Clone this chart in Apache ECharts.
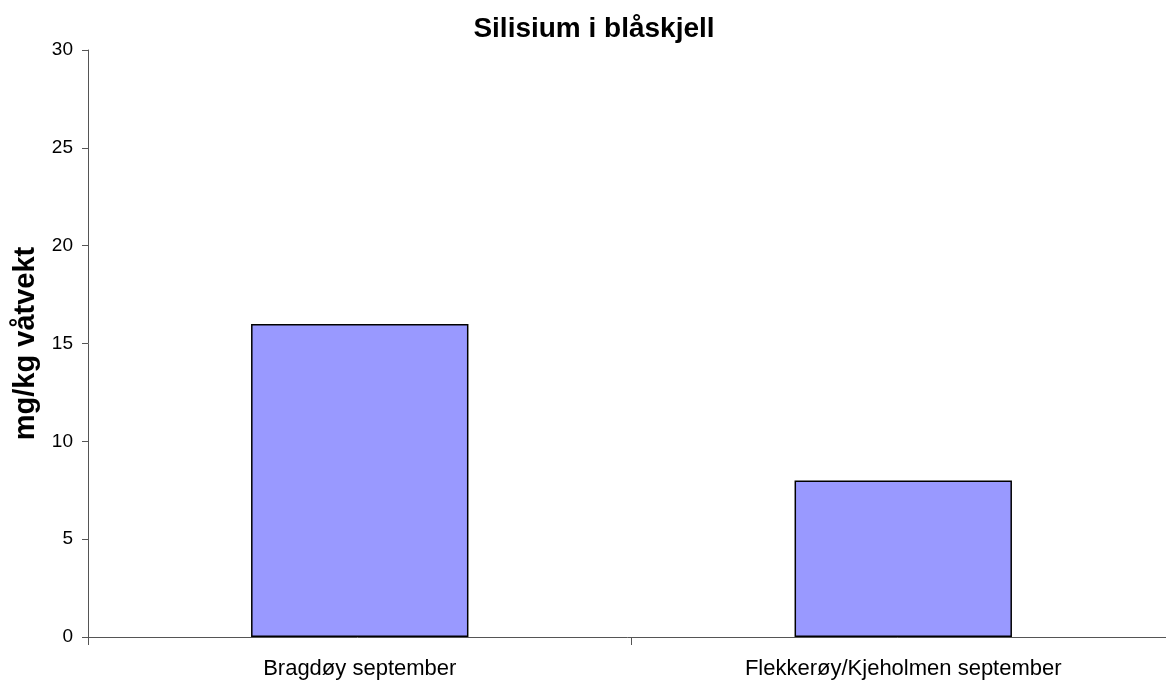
<!DOCTYPE html>
<html>
<head>
<meta charset="utf-8">
<script src="https://cdn.jsdelivr.net/npm/echarts@6/dist/echarts.min.js"></script>
<style>
html, body { margin: 0; padding: 0; background: #fff; overflow: hidden; }
#chart { width: 1166px; height: 682px; }
</style>
</head>
<body>
<div id="chart"></div>
<script>
// data
var categories = ['Bragdøy september', 'Flekkerøy/Kjeholmen september'];
var values = [16, 8];
var yTicks = [0, 5, 10, 15, 20, 25, 30];

var chart = echarts.init(document.getElementById('chart'));
var font = '"Liberation Sans", Arial, sans-serif';

chart.setOption({
	animation: false,
	backgroundColor: '#fff',
	title: {
		text: 'Silisium i blåskjell',
		left: 589,
		top: 10,
		textAlign: 'center',
		textStyle: { fontFamily: font, fontSize: 28, fontWeight: 'bold', color: '#000' }
	},
	// plot runs a little past the right edge, like the original
	grid: { left: 88, top: 50, right: -9, bottom: 45, containLabel: false, outerBoundsMode: 'none' },
	xAxis: {
		type: 'category',
		data: categories,
		axisLine: { lineStyle: { color: '#555', width: 1 } },
		axisTick: { show: true, length: 8, lineStyle: { color: '#555' } },
		axisLabel: { fontFamily: font, fontSize: 22, color: '#000', margin: 21 },
		splitLine: { show: false }
	},
	yAxis: {
		type: 'value',
		min: yTicks[0],
		max: yTicks[yTicks.length - 1],
		interval: 5,
		name: 'mg/kg våtvekt',
		nameLocation: 'middle',
		nameGap: 46,
		nameTextStyle: { fontFamily: font, fontSize: 29, fontWeight: 'bold', color: '#000' },
		axisLine: { show: true, lineStyle: { color: '#555', width: 1 } },
		axisTick: { show: true, length: 6, lineStyle: { color: '#555' } },
		axisLabel: { fontFamily: font, fontSize: 19, color: '#000', margin: 15 },
		splitLine: { show: false }
	},
	series: [{
		type: 'bar',
		data: values,
		barWidth: '40%',
		itemStyle: { color: '#9999FF', borderColor: '#000', borderWidth: 1.5 }
	}]
});
</script>
</body>
</html>
